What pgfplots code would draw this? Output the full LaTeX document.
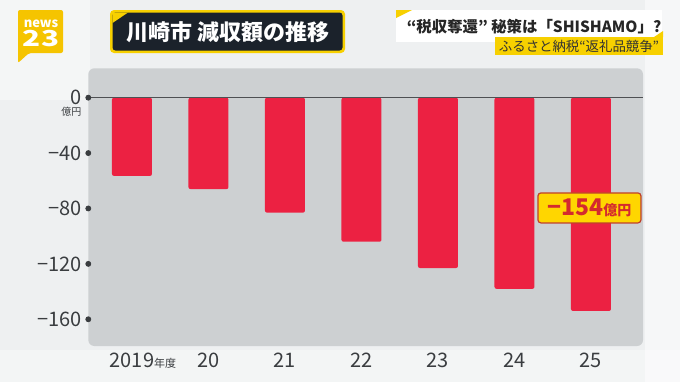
\documentclass[border=0pt]{standalone}
\usepackage{fontspec}
\setmainfont{Noto Sans CJK JP}
\usepackage{pgfplots}
\pgfplotsset{compat=1.18}
\definecolor{bg}{HTML}{EEF0F1}
\definecolor{plotbg}{HTML}{CDD0D2}
\definecolor{barred}{HTML}{EC2142}
\definecolor{ticktxt}{HTML}{3A3D40}
\definecolor{yel}{HTML}{F7D000}
\definecolor{navy}{HTML}{1B222B}
\definecolor{annred}{HTML}{D42A2E}
\definecolor{annborder}{HTML}{C0402A}
\definecolor{annyel}{HTML}{FFD600}
\definecolor{logoyel}{HTML}{F5C400}
\begin{document}
\begin{tikzpicture}
\begin{scope}[x=0.5pt,y=-0.5pt]
\fill[bg] (0,0) rectangle (680,382);
\fill[white,opacity=0.5] (645,0) rectangle (680,382);
\fill[white,opacity=0.4] (0,0) rectangle (90,100);
\fill[white,opacity=0.35] (0,350) rectangle (680,382);
\fill[plotbg, rounded corners=3pt] (88.3,68.3) rectangle (643,346);
% logo
\fill[logoyel, rounded corners=1pt] (18,10) -- (63,10) -- (63,53) -- (29,53) -- (18,63) -- cycle;
\node[white, font=\bfseries\fontsize{6.5}{6.5}\selectfont, inner sep=0pt] at (41,24) {news};
\node[white, font=\bfseries\fontsize{11}{11}\selectfont, inner sep=0pt, xscale=1.35] at (41,38.5) {23};
% title
\fill[yel, rounded corners=2pt] (110,10) rectangle (345,53);
\fill[navy, rounded corners=1.5pt] (112.5,12.5) rectangle (342.5,50.5);
\fill[yel] (112.5,12.5) -- (128,12.5) -- (112.5,23) -- cycle;
\node[white, font=\bfseries\fontsize{11}{11}\selectfont, inner sep=0pt] at (228,32) {川崎市 減収額の推移};
% top right
\fill[white] (396,10) rectangle (662,42);
\fill[yel] (396,10) -- (412,10) -- (396,18) -- cycle;
\node[font=\bfseries\fontsize{7.7}{7.7}\selectfont, text=black!85, inner sep=0pt] at (534,27) {“税収奪還” 秘策は「SHISHAMO」?};
\fill[yel] (495,37) rectangle (663,55);
\fill[yel] (654,37) -- (663,31) -- (663,37) -- cycle;
\node[font=\fontsize{6.7}{6.7}\selectfont, text=black!80, inner sep=0pt] at (579,46.5) {ふるさと納税“返礼品競争”};
\end{scope}
\begin{axis}[
  at={(44.15pt,-173pt)}, anchor=south west,
  scale only axis, width=277.35pt, height=138.85pt,
  xmin=-0.571, xmax=6.68, ymin=-179.3, ymax=21.2,
  axis line style={draw=none},
  major tick length=0pt,
  xtick={0,1,2,3,4,5,6},
  xticklabels={{2019\rlap{\fontsize{5.5}{5.5}\selectfont 年度}},20,21,22,23,24,25},
  ytick={-160,-120,-80,-40,0},
  yticklabels={−160,−120,−80,−40,0},
  tick label style={font=\fontsize{10}{10}\selectfont, text=ticktxt},
  yticklabel style={inner sep=0pt, xshift=-3pt},
  xticklabel style={inner sep=0pt, yshift=-3.5pt},
  clip=false,
]
\addplot[ybar, bar width=0.523, bar shift=0pt, fill=barred, draw=none, rounded corners=1pt]
  coordinates {(0,-56.5) (1,-66) (2,-83) (3,-104) (4,-123) (5,-138) (6,-154)};
\addplot[color=ticktxt!90, line width=0.8pt] coordinates {(-0.571,0) (6.68,0)};
\addplot[only marks, mark=*, mark size=1.25pt, color=ticktxt]
  coordinates {(-0.571,0) (-0.571,-40) (-0.571,-80) (-0.571,-120) (-0.571,-160)};
\node[font=\fontsize{5}{5}\selectfont, text=ticktxt, inner sep=0pt] at (axis cs:-0.571,0) [xshift=-8.5pt, yshift=-7pt] {億円};
\node[fill=annyel, draw=annborder, line width=0.6pt, rounded corners=1.5pt,
  minimum width=51.5pt, minimum height=15pt, inner sep=0pt, text=annred, font=\bfseries]
  at (axis cs:5.98,-79.6) {{\fontsize{11.5}{11.5}\selectfont −154}{\fontsize{7}{7}\selectfont 億円}};
\end{axis}
\end{tikzpicture}
\end{document}
